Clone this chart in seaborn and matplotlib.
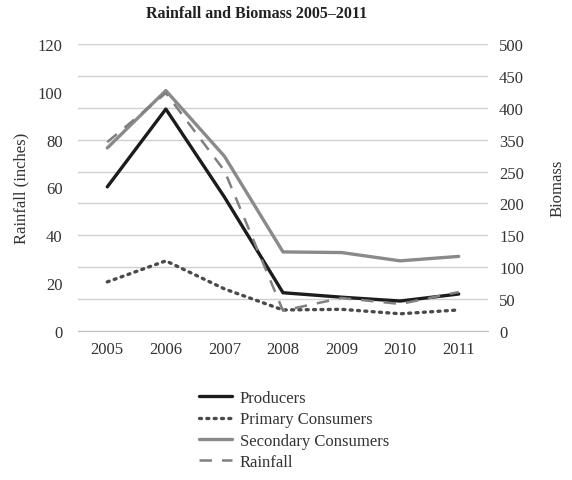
import numpy as np
import pandas as pd
import matplotlib
matplotlib.use("Agg")
import matplotlib.pyplot as plt
import seaborn as sns

# ---------- data ----------
years = ["2005", "2006", "2007", "2008", "2009", "2010", "2011"]
producers = [226, 348, 210, 60, 53, 47, 58]
primary_consumers = [77, 110, 66, 33, 34, 27, 33]
secondary_consumers = [287, 377, 274, 124, 123, 110, 117]
rainfall = [79, 99.5, 67, 8.5, 13.8, 11.3, 16.3]

rain_ticks = [0, 20, 40, 60, 80, 100, 120]
biomass_ticks = [0, 50, 100, 150, 200, 250, 300, 350, 400, 450]
biomass_tick_labels = ["0", "50", "100", "150", "200", "250", "350", "400", "450", "500"]

df = pd.DataFrame({
    "pos": np.arange(len(years)),
    "Producers": producers,
    "Primary Consumers": primary_consumers,
    "Secondary Consumers": secondary_consumers,
    "Rainfall": rainfall,
})

# ---------- style ----------
sns.set_style("white")
plt.rcParams["font.family"] = ["Liberation Serif", "DejaVu Serif"]
plt.rcParams["font.size"] = 12

fig = plt.figure(figsize=(5.72, 4.81), dpi=100)
ax = fig.add_axes([78 / 572, 1 - 332 / 481, 410 / 572, 287 / 481])
ax2 = ax.twinx()
ax.set_zorder(2)
ax2.set_zorder(1)
ax.patch.set_visible(False)

# ---------- biomass lines (right axis) ----------
sns.lineplot(data=df, x="pos", y="Producers", ax=ax2, color="#1c1c1c", lw=2.4,
             label="Producers", legend=False)
sns.lineplot(data=df, x="pos", y="Primary Consumers", ax=ax2, color="#4a4a4a", lw=2.4,
             linestyle=(0, (0.6, 1.6)), dash_capstyle="round",
             label="Primary Consumers", legend=False)
sns.lineplot(data=df, x="pos", y="Secondary Consumers", ax=ax2, color="#8a8a8a", lw=2.4,
             label="Secondary Consumers", legend=False)

# ---------- rainfall (left axis) ----------
sns.lineplot(data=df, x="pos", y="Rainfall", ax=ax, color="#808080", lw=1.8,
             linestyle=(0, (5, 4)), label="Rainfall", legend=False)

# ---------- axes ----------
ax.set_xlim(-0.5, len(years) - 0.5)
ax.set_ylim(0, 120)
ax2.set_ylim(0, 450)

ax.set_yticks(rain_ticks)
ax.tick_params(axis="y", length=0, pad=11, labelsize=12, colors="#333333")
ax2.set_yticks(biomass_ticks)
ax2.set_yticklabels(biomass_tick_labels)
ax2.tick_params(axis="y", length=0, pad=8, labelsize=12, colors="#333333")

ax.set_xticks(np.arange(len(years)))
ax.set_xticklabels(years)
ax.set_xticks(np.arange(-0.5, len(years)), minor=True)
ax.tick_params(axis="x", which="major", length=0, pad=7, labelsize=12, colors="#333333")
ax.tick_params(axis="x", which="minor", length=7, width=1, color="#bfbfbf", direction="out")

ax2.grid(axis="y", color="#d0d0d0", lw=1)
ax2.set_axisbelow(True)
ax.grid(False)

for s in ["top", "left", "right"]:
    ax.spines[s].set_visible(False)
for s in ["top", "left", "right", "bottom"]:
    ax2.spines[s].set_visible(False)
ax.spines["bottom"].set_color("#bfbfbf")

ax.set_xlabel("")
ax.set_ylabel("Rainfall (inches)", fontsize=12, color="#333333", labelpad=6)
ax2.set_ylabel("Biomass", fontsize=12, color="#333333", rotation=90, labelpad=18)

fig.text(257 / 572, 1 - 14 / 481, "Rainfall and Biomass 2005\u20132011",
         ha="center", va="center", fontsize=11.5, fontweight="bold", color="#222222")

# ---------- legend ----------
h1, l1 = ax2.get_legend_handles_labels()
h2, l2 = ax.get_legend_handles_labels()
fig.legend(h1 + h2, l1 + l2, loc="upper left", bbox_to_anchor=(184 / 572, 1 - 376 / 481),
           frameon=False, fontsize=12, handlelength=2.0, handletextpad=0.45,
           labelspacing=0.32, labelcolor="#333333")

fig.savefig("out.png", dpi=100)
